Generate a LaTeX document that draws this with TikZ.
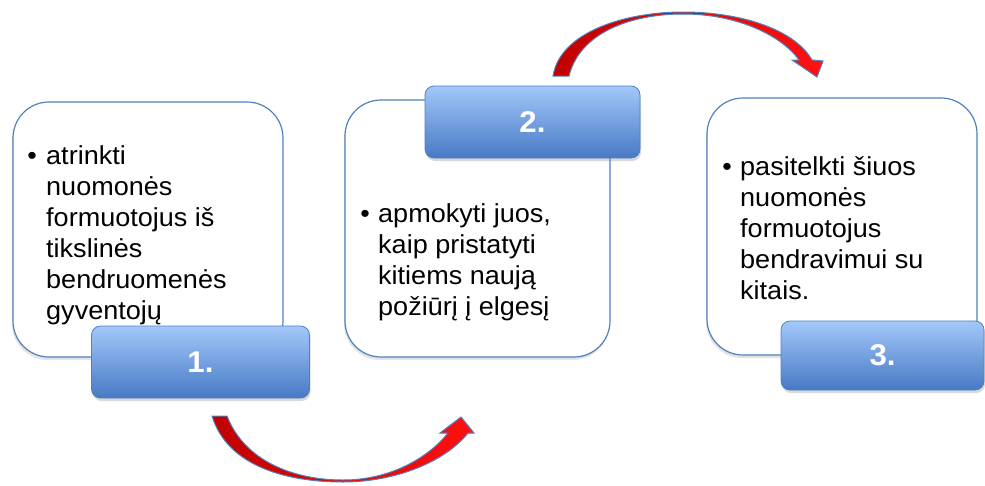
\documentclass[tikz,border=0pt]{standalone}
\usepackage{fontspec}
\setmainfont{Liberation Sans}[FakeStretch=1.04]
\usetikzlibrary{shadows}
\definecolor{bord}{HTML}{4F81BD}
\definecolor{btop}{HTML}{A3C8FA}
\definecolor{bbot}{HTML}{4779C4}
\definecolor{dred}{HTML}{C00000}
\definecolor{bred}{HTML}{FF1010}
\newcommand\mylines[1]{\vtop{\baselineskip=31pt\lineskiplimit=-20pt\halign{##\hfil\cr#1\crcr}}}
\begin{document}
\begin{tikzpicture}[x=1pt,y=-1pt,
 wbox/.style={draw=bord, line width=1.2pt, fill=white, rounded corners=36pt, inner sep=0pt,
   drop shadow={opacity=0.22, shadow xshift=-1pt, shadow yshift=-3pt}},
 nbox/.style={draw=bord, line width=0.8pt, top color=btop, bottom color=bbot, rounded corners=9pt,
   text=white, inner sep=0pt, font=\fontsize{30}{34}\selectfont\bfseries,
   drop shadow={opacity=0.3, shadow xshift=1pt, shadow yshift=-3pt}},
 txt/.style={anchor=base west, inner sep=0pt, font=\fontsize{26}{31}\selectfont},
 bul/.style={anchor=base, inner sep=0pt, font=\fontsize{26}{31}\selectfont},
 arr/.style={draw=bord, line width=1pt, left color=dred, right color=bred}]
\useasboundingbox (0,0) rectangle (985,485);

% curved arrows
\path[arr] (212,416) .. controls (228,468) and (290,482) .. (343,482)
  .. controls (395,482) and (445,462) .. (468,433) -- (474,433) -- (461,417) -- (440,433) -- (448,433)
  .. controls (428,458) and (390,480) .. (343,480)
  .. controls (295,480) and (245,462) .. (227,416) -- cycle;
\path[arr] (553,76) .. controls (560,32) and (625,12) .. (683,12)
  .. controls (742,12) and (795,30) .. (812,60) -- (823,61) -- (817,77) -- (792,60) -- (799,60)
  .. controls (782,36) and (738,14) .. (683,14)
  .. controls (632,14) and (580,32) .. (569,76) -- cycle;

% box 1
\node[wbox, minimum width=270pt, minimum height=255pt] (b1) at (148,229.5) {};
\node[bul] (u1) at (32,164) {•};
\node[txt] (t1) at (46,164) {\mylines{atrinkti\cr nuomonės\cr formuotojus iš\cr tikslinės\cr bendruomenės\cr gyventojų}};
\node[nbox, minimum width=218pt, minimum height=72pt] (n1) at (200.5,362) {1.};

% box 2
\node[wbox, minimum width=265pt, minimum height=257pt] (b2) at (477.5,228.5) {};
\node[bul] (u2) at (365,222) {•};
\node[txt] (t2) at (378,222) {\mylines{apmokyti juos,\cr kaip pristatyti\cr kitiems naują\cr požiūrį į elgesį}};
\node[nbox, minimum width=215pt, minimum height=72pt] (n2) at (532.5,122) {2.};

% box 3
\node[wbox, minimum width=270pt, minimum height=257pt] (b3) at (842,226.5) {};
\node[bul] (u3) at (727,175) {•};
\node[txt] (t3) at (740,175) {\mylines{pasitelkti šiuos\cr nuomonės\cr formuotojus\cr bendravimui su\cr kitais.}};
\node[nbox, minimum width=203pt, minimum height=69pt] (n3) at (882.5,355.5) {3.};
\end{tikzpicture}
\end{document}
